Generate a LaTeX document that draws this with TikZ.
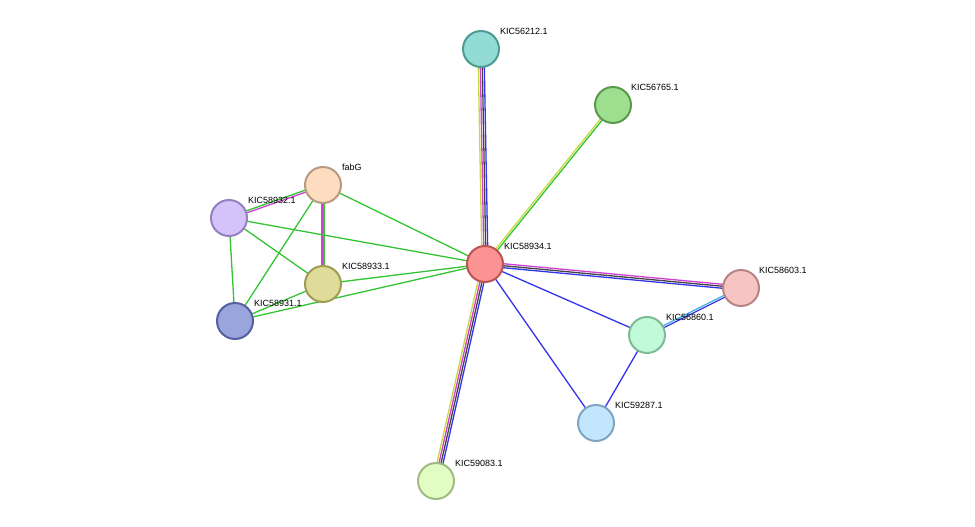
\documentclass[tikz,border=0pt]{standalone}
\usetikzlibrary{calc}
\usepackage{fontspec}
\setmainfont{Liberation Sans}
\definecolor{eb}{HTML}{3333EE}
\definecolor{ek}{HTML}{444444}
\definecolor{em}{HTML}{D040D0}
\definecolor{ey}{HTML}{C8D840}
\definecolor{eg}{HTML}{33C433}
\definecolor{ec}{HTML}{40B0E0}
\definecolor{f12}{HTML}{93DCD5}\definecolor{d12}{HTML}{4E9B94}
\definecolor{f65}{HTML}{9EDF8F}\definecolor{d65}{HTML}{5B9A4C}
\definecolor{ffab}{HTML}{FDDCBF}\definecolor{dfab}{HTML}{B79A80}
\definecolor{f32}{HTML}{D4C3FB}\definecolor{d32}{HTML}{9580C0}
\definecolor{f34}{HTML}{FC9393}\definecolor{d34}{HTML}{BB5555}
\definecolor{f03}{HTML}{F7C4C4}\definecolor{d03}{HTML}{B88585}
\definecolor{f33}{HTML}{DFDC9A}\definecolor{d33}{HTML}{A09C55}
\definecolor{f31}{HTML}{9AA5DE}\definecolor{d31}{HTML}{5560A0}
\definecolor{f60}{HTML}{C0FAD8}\definecolor{d60}{HTML}{7FBB98}
\definecolor{f87}{HTML}{C2E6FB}\definecolor{d87}{HTML}{7FA5C0}
\definecolor{f83}{HTML}{E2FDC4}\definecolor{d83}{HTML}{A2BB85}
\tikzset{prot/.style={circle,minimum size=36pt,inner sep=0pt,line width=2pt,fill=f#1,draw=d#1},
 lab/.style={font=\fontsize{9}{10}\selectfont,anchor=south west,inner sep=0pt},
 ed/.style={line width=1.3pt}}
\newcommand{\ed}[4]{\draw[ed,#4] ($(#1.center)!#3 pt!90:(#2.center)$) -- ($(#2.center)!#3 pt!-90:(#1.center)$);}
\begin{document}
\begin{tikzpicture}[x=1pt,y=-1pt]
\useasboundingbox (0,0) rectangle (975,527);
\coordinate (n12) at (481,49);
\coordinate (n65) at (613,105);
\coordinate (fab) at (323,185);
\coordinate (n32) at (229,218);
\coordinate (n34) at (485,264);
\coordinate (n03) at (741,288);
\coordinate (n33) at (323,284);
\coordinate (n31) at (235,321);
\coordinate (n60) at (647,335);
\coordinate (n87) at (596,423);
\coordinate (n83) at (436,481);
% edges
\ed{n34}{n12}{-3}{eb}\ed{n34}{n12}{-1}{ek}\ed{n34}{n12}{1}{em}\ed{n34}{n12}{3}{ey}
\ed{n34}{n83}{3}{eb}\ed{n34}{n83}{1}{ek}\ed{n34}{n83}{-1}{em}\ed{n34}{n83}{-3}{ey}
\ed{n34}{n65}{-1}{eg}\ed{n34}{n65}{1}{ey}
\ed{n34}{n03}{-2}{eb}\ed{n34}{n03}{0}{ek}\ed{n34}{n03}{2}{em}
\ed{n60}{n03}{-1}{eb}\ed{n60}{n03}{1}{ec}
\ed{fab}{n32}{-1}{eg}\ed{fab}{n32}{1}{em}
\ed{fab}{n33}{-1}{em}\ed{fab}{n33}{1}{eg}
\ed{n34}{n60}{0}{eb}\ed{n34}{n87}{0}{eb}\ed{n60}{n87}{0}{eb}
\ed{fab}{n34}{0}{eg}\ed{n32}{n34}{0}{eg}\ed{n33}{n34}{0}{eg}\ed{n31}{n34}{0}{eg}
\ed{n32}{n33}{0}{eg}\ed{n32}{n31}{0}{eg}\ed{fab}{n31}{0}{eg}\ed{n33}{n31}{0}{eg}
% nodes
\node[prot=12] (a12) at (n12) {};
\node[prot=65] (a65) at (n65) {};
\node[prot=fab] (afab) at (fab) {};
\node[prot=32] (a32) at (n32) {};
\node[prot=34] (a34) at (n34) {};
\node[prot=03] (a03) at (n03) {};
\node[prot=33] (a33) at (n33) {};
\node[prot=31] (a31) at (n31) {};
\node[prot=60] (a60) at (n60) {};
\node[prot=87] (a87) at (n87) {};
\node[prot=83] (a83) at (n83) {};
\node[lab] (l12) at ($(n12)+(19,-14)$) {KIC56212.1};
\node[lab] (l65) at ($(n65)+(18,-14)$) {KIC56765.1};
\node[lab] (lfab) at ($(fab)+(19,-14)$) {fabG};
\node[lab] (l32) at ($(n32)+(19,-14)$) {KIC58932.1};
\node[lab] (l34) at ($(n34)+(19,-14)$) {KIC58934.1};
\node[lab] (l03) at ($(n03)+(18,-14)$) {KIC58603.1};
\node[lab] (l33) at ($(n33)+(19,-14)$) {KIC58933.1};
\node[lab] (l31) at ($(n31)+(19,-14)$) {KIC58931.1};
\node[lab] (l60) at ($(n60)+(19,-14)$) {KIC56860.1};
\node[lab] (l87) at ($(n87)+(19,-14)$) {KIC59287.1};
\node[lab] (l83) at ($(n83)+(19,-14)$) {KIC59083.1};
\end{tikzpicture}
\end{document}
